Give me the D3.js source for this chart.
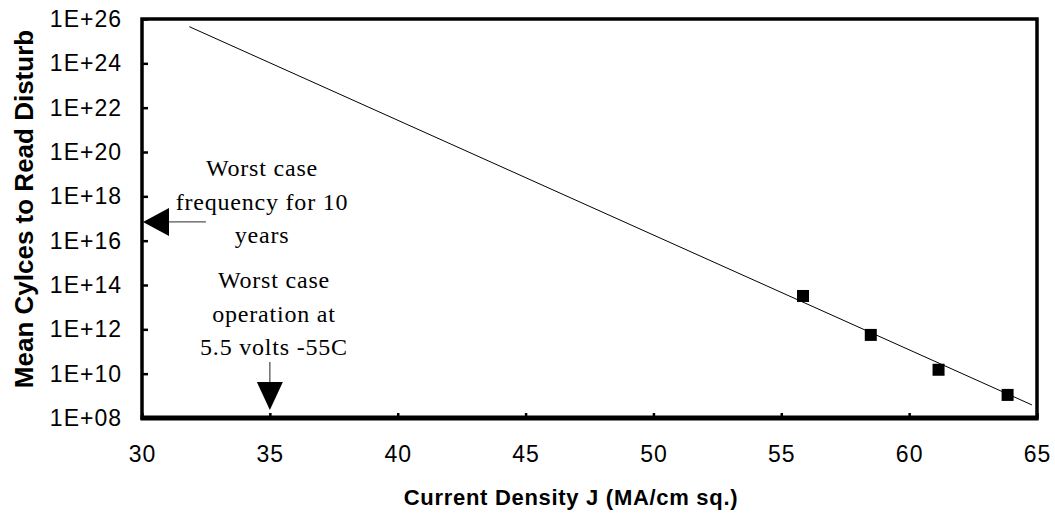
<!DOCTYPE html>
<html>
<head>
<meta charset="utf-8">
<script src="https://cdn.jsdelivr.net/npm/d3@7"></script>
<style>
    body { margin: 0; background: #fff; }
    svg { display: block; }
</style>
</head>
<body>
<div id="chart"></div>
<script>
// measured points (current density, mean cycles)
const currentDensity = [55.85, 58.5, 61.15, 63.85];
const meanCycles = [3.2e13, 5.6e11, 1.5e10, 1.1e9];

// fitted trend line end points
const trendJ = [31.85, 64.8];
const trendCycles = [4.5e25, 3.9e8];

const xTicks = [30, 35, 40, 45, 50, 55, 60, 65];
const yTicks = [1e8, 1e10, 1e12, 1e14, 1e16, 1e18, 1e20, 1e22, 1e24, 1e26];

// annotations
const freqArrow = { j: 32.5, cycles: 7e16 };
const opArrow = { j: 35, top: 3.4e10, tip: 2.3e8 };
const freqText = ["Worst case", "frequency for 10", "years"];
const opText = ["Worst case", "operation at", "5.5 volts -55C"];

const W = 1055, H = 519;
const margin = { top: 19, right: 18, bottom: 101, left: 142 };
const width = W - margin.left - margin.right,
    height = H - margin.top - margin.bottom;

const svg = d3.select("#chart").append("svg")
    .attr("width", W)
    .attr("height", H);

const g = svg.append("g")
    .attr("transform", "translate(" + margin.left + "," + margin.top + ")");

const x = d3.scaleLinear().domain([30, 65]).range([0, width]);
const y = d3.scaleLog().domain([1e8, 1e26]).range([height, 0]);

const sansFont = "'Liberation Sans', Arial, sans-serif";
const serifFont = "'Liberation Serif', 'Times New Roman', serif";

//x axis
const xAxis = g.append("g")
    .attr("transform", "translate(0," + height + ")")
    .call(d3.axisBottom(x).tickValues(xTicks).tickSizeInner(-5)
        .tickSizeOuter(0).tickPadding(28).tickFormat(d3.format("d")));

//y axis
const yAxis = g.append("g")
    .call(d3.axisLeft(y).tickValues(yTicks).tickSizeInner(-6)
        .tickSizeOuter(0).tickPadding(20)
        .tickFormat(d => "1E+" + String(Math.round(Math.log10(d))).padStart(2, "0")));

[xAxis, yAxis].forEach(a => {
    a.select(".domain").remove();
    a.selectAll(".tick line").attr("stroke", "#000").attr("stroke-width", 2.5);
    a.selectAll(".tick text")
        .attr("fill", "#000")
        .style("font-family", sansFont)
        .style("font-size", "23px")
        .style("letter-spacing", "1px");
});

//frame
g.append("rect")
    .attr("x", 0).attr("y", 0)
    .attr("width", width).attr("height", height)
    .attr("fill", "none")
    .attr("stroke", "#000")
    .attr("stroke-width", 3.5);
g.append("line")
    .attr("x1", -1.5).attr("x2", width + 1.5)
    .attr("y1", height).attr("y2", height)
    .attr("stroke", "#000")
    .attr("stroke-width", 5);

//trend line
const trend = trendJ.map((d, i) => [d, trendCycles[i]]);
g.append("path")
    .datum(trend)
    .attr("fill", "none")
    .attr("stroke", "#000")
    .attr("stroke-width", 1)
    .attr("d", d3.line().x(d => x(d[0])).y(d => y(d[1])));

//markers
const pts = currentDensity.map((d, i) => ({ j: d, c: meanCycles[i] }));
g.selectAll(".marker").data(pts)
    .enter()
    .append("rect")
    .attr("class", "marker")
    .attr("x", d => x(d.j) - 6)
    .attr("y", d => y(d.c) - 6)
    .attr("width", 12)
    .attr("height", 12)
    .attr("fill", "#000");

//frequency arrow (points left to the axis)
const fy = y(freqArrow.cycles);
g.append("line")
    .attr("x1", 24).attr("x2", x(freqArrow.j))
    .attr("y1", fy).attr("y2", fy)
    .attr("stroke", "#555").attr("stroke-width", 1.3);
g.append("path")
    .attr("d", "M1," + fy + "L27," + (fy - 14) + "L27," + (fy + 14) + "Z")
    .attr("fill", "#000");

//operation arrow (points down to the axis)
const ox = x(opArrow.j);
g.append("line")
    .attr("x1", ox).attr("x2", ox)
    .attr("y1", y(opArrow.top)).attr("y2", y(opArrow.tip) - 20)
    .attr("stroke", "#555").attr("stroke-width", 1.3);
g.append("path")
    .attr("d", "M" + ox + "," + y(opArrow.tip) + "L" + (ox - 13) + "," + (y(opArrow.tip) - 28) +
        "L" + (ox + 13) + "," + (y(opArrow.tip) - 28) + "Z")
    .attr("fill", "#000");

//annotation text
function addBlock(lines, cx, firstBaseline) {
    g.selectAll(null).data(lines)
        .enter()
        .append("text")
        .attr("x", cx)
        .attr("y", (d, i) => firstBaseline + i * 33.5)
        .text(d => d)
        .style("font-family", serifFont)
        .style("font-size", "24px")
        .style("letter-spacing", "0.8px")
        .style("text-anchor", "middle")
        .attr("fill", "#000");
}
addBlock(freqText, 120, 157);
addBlock(opText, 132, 269);

//axis titles
svg.append("text")
    .attr("x", 571)
    .attr("y", 505)
    .text("Current Density J (MA/cm sq.)")
    .style("font-family", sansFont)
    .style("font-weight", "bold")
    .style("font-size", "22px")
    .style("letter-spacing", "0.7px")
    .style("text-anchor", "middle");

svg.append("text")
    .attr("transform", "translate(33,209) rotate(-90)")
    .text("Mean Cylces to Read Disturb")
    .style("font-family", sansFont)
    .style("font-weight", "bold")
    .style("font-size", "26px")
    .style("text-anchor", "middle");
</script>
</body>
</html>
